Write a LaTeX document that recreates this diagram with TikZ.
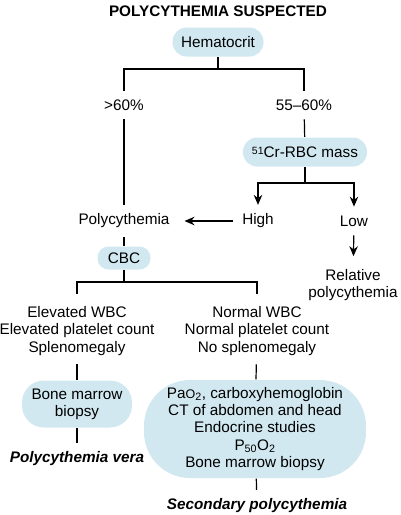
\documentclass[tikz,border=0pt]{standalone}
\usepackage{fontspec}
\setmainfont{Liberation Sans}
\usetikzlibrary{arrows.meta}
\definecolor{boxblue}{HTML}{D1E8F0}

\begin{document}
\begin{tikzpicture}[x=1pt,y=-1pt,line width=1.2pt,
  font=\fontsize{15.3}{17.3}\selectfont,
  >={Stealth[length=10pt,width=8.5pt]}]
\useasboundingbox (0,0) rectangle (400,515);
\tikzset{box/.style={fill=boxblue,rounded corners=14pt,inner sep=0pt,align=center},
         lbl/.style={inner sep=0pt,outer sep=9pt,align=center}}

\node[font=\bfseries\fontsize{15.3}{18}\selectfont] (ttl) at (218,11) {POLYCYTHEMIA SUSPECTED};
\node[box,minimum width=91pt,minimum height=29pt] (hct) at (218,42) {Hematocrit};
\node[lbl] (gt) at (124,105) {>60\%};
\node[lbl] (mid) at (304,105) {55–60\%};
\node[box,minimum width=124pt,minimum height=29pt] (rbc) at (305,152) {\raisebox{3pt}{\fontsize{10.5}{10}\selectfont 51}Cr-RBC mass};
\node[lbl] (poly) at (124,221) {Polycythemia};
\node[lbl] (high) at (258,221) {High};
\node[lbl] (low) at (354,221) {Low};
\node[lbl] (rel) at (353,285) {Relative\\polycythemia};
\node[box,minimum width=53pt,minimum height=23pt,rounded corners=11pt] (cbc) at (124,258) {CBC};
\node[lbl] (ele) at (77,331) {Elevated WBC\\Elevated platelet count\\Splenomegaly};
\node[lbl] (nor) at (257,331) {Normal WBC\\Normal platelet count\\No splenomegaly};
\node[box,minimum width=110pt,minimum height=47pt,rounded corners=22pt] (bmb) at (77,404) {Bone marrow\\biopsy};
\node[box,minimum width=222pt,minimum height=98pt,rounded corners=46pt] (tst) at (255,429)
  {Pa{\fontsize{12.5}{12}\selectfont O}\textsubscript{2}, carboxyhemoglobin\\CT of abdomen and head\\Endocrine studies\\P\textsubscript{50}O\textsubscript{2}\\Bone marrow biopsy};
\node[lbl,font=\bfseries\itshape\fontsize{15.3}{17}\selectfont] (pv) at (77,459) {Polycythemia vera};
\node[lbl,font=\bfseries\itshape\fontsize{15.3}{17}\selectfont] (sp) at (257,506) {Secondary polycythemia};

\coordinate (j1) at (218,69);
\coordinate (j2) at (305,183);
\coordinate (j3) at (124,282);

\draw (hct) -- (j1);
\draw (gt.north) |- (j1) -| (mid.north);
\draw (gt) -- (poly);
\draw (mid) -- (rbc);
\draw (rbc) -- (j2);
\draw[<->] (high.north) |- (j2) -| (low.north);
\path [->] (high) edge[shorten >=6pt] (poly);
\path [->] (low) edge[shorten >=4pt] (rel);
\draw (poly) -- (cbc);
\draw (cbc) -- (j3);
\draw[shorten <=4pt] (ele.north) |- (j3) -| ([yshift=4pt]nor.north);
\draw (ele) -- (bmb);
\draw (bmb) -- (pv);
\draw (nor) -- (tst);
\draw (tst) -- (sp);
\end{tikzpicture}
\end{document}
